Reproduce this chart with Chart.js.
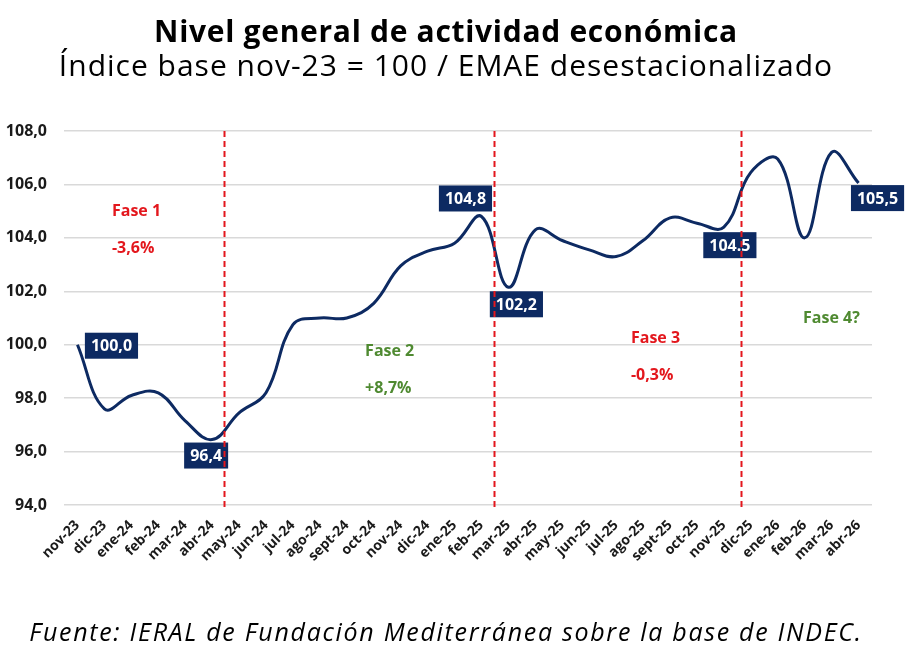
<!DOCTYPE html>
<html>
<head>
<meta charset="utf-8">
<script src="https://cdn.jsdelivr.net/npm/chart.js@4.4.1/dist/chart.umd.min.js"></script>
<style>
  body { margin: 0; background: #fff; }
  #wrap { position: relative; width: 924px; height: 662px; overflow: hidden; }
  #myChart { position: absolute; left: 0; top: 0; }
  .txt { position: absolute; left: 0; width: 892px; text-align: center; color: #000; white-space: nowrap; }
  #title { top: 10px; font: 700 30px "Open Sans", sans-serif; letter-spacing: 0.7px; }
  #subtitle { top: 44px; font: 400 30px "Open Sans", sans-serif; letter-spacing: 1px; }
  #footer { top: 614px; font: italic 400 25px "Open Sans", sans-serif; letter-spacing: 1.7px; }
</style>
</head>
<body>
<div id="wrap">
  <canvas id="myChart" width="924" height="662"></canvas>
  <div class="txt" id="title">Nivel general de actividad económica</div>
  <div class="txt" id="subtitle">Índice base nov-23 = 100 / EMAE desestacionalizado</div>
  <div class="txt" id="footer">Fuente: IERAL de Fundación Mediterránea sobre la base de INDEC.</div>
</div>
<script>
var months = ['nov-23','dic-23','ene-24','feb-24','mar-24','abr-24','may-24','jun-24','jul-24','ago-24',
  'sept-24','oct-24','nov-24','dic-24','ene-25','feb-25','mar-25','abr-25','may-25','jun-25',
  'jul-25','ago-25','sept-25','oct-25','nov-25','dic-25','ene-26','feb-26','mar-26','abr-26'];
var emae = [100.0, 97.6, 98.1, 98.2, 97.15, 96.45, 97.45, 98.2, 100.75, 101.0,
  101.0, 101.55, 102.95, 103.5, 103.8, 104.8, 102.15, 104.3, 103.9, 103.55,
  103.3, 103.9, 104.75, 104.55, 104.4, 106.45, 106.95, 104.0, 107.2, 106.05];

// value boxes shown on the line
var boxIndex = [0, 5, 15, 16, 24, 29];
var boxText = ['100,0', '96,4', '104,8', '102,2', '104.5', '105,5'];

// phases
var phaseBreaks = [5.44, 15.47, 24.64];
var phaseNames = ['Fase 1', 'Fase 2', 'Fase 3', 'Fase 4?'];
var phaseChanges = ['-3,6%', '+8,7%', '-0,3%', ''];

var navy = '#0d2a62';
var red = '#e3171d';
var green = '#4f8a31';

// placement (pixels offsets / scale positions) kept apart from the data
var boxOffsets = [[34, 1], [-6, 16], [-16, -18], [8, 17], [6, 18], [19, 15]];
var phasePos = [[1.28, 105.0, 103.6], [10.68, 99.75, 98.35], [20.55, 100.25, 98.85], [26.94, 101.0, 0]];
var phaseColors = [red, green, red, green];

var overlay = {
  id: 'overlay',
  afterDatasetsDraw: function (chart) {
    var c = chart.ctx, xs = chart.scales.x, ys = chart.scales.y, area = chart.chartArea;
    var pts = chart.getDatasetMeta(0).data;
    c.save();
    // phase texts
    c.font = '700 16px "Open Sans", sans-serif';
    c.textAlign = 'left';
    c.textBaseline = 'middle';
    for (var k = 0; k < phaseNames.length; k++) {
      c.fillStyle = phaseColors[k];
      var px = xs.getPixelForValue(phasePos[k][0]);
      c.fillText(phaseNames[k], px, ys.getPixelForValue(phasePos[k][1]));
      if (phaseChanges[k]) c.fillText(phaseChanges[k], px, ys.getPixelForValue(phasePos[k][2]));
    }
    // value boxes
    c.font = '700 16px "Open Sans", sans-serif';
    c.textAlign = 'center';
    for (var i = 0; i < boxIndex.length; i++) {
      var p = pts[boxIndex[i]];
      var cx = p.x + boxOffsets[i][0], cy = p.y + boxOffsets[i][1];
      var w = c.measureText(boxText[i]).width + 12, h = 26;
      c.fillStyle = navy;
      c.fillRect(cx - w / 2, cy - h / 2, w, h);
      c.fillStyle = '#fff';
      c.fillText(boxText[i], cx, cy + 1);
    }
    // dashed phase separators
    c.strokeStyle = red;
    c.lineWidth = 2;
    c.setLineDash([6, 4]);
    for (var j = 0; j < phaseBreaks.length; j++) {
      var lx = Math.round(xs.getPixelForValue(phaseBreaks[j])) + 0.5;
      c.beginPath();
      c.moveTo(lx, area.top);
      c.lineTo(lx, area.bottom + 3);
      c.stroke();
    }
    c.restore();
  }
};

var ctx = document.getElementById('myChart').getContext('2d');
var chart = new Chart(ctx, {
  type: 'line',
  data: {
    labels: months,
    datasets: [{
      data: emae,
      borderColor: navy,
      borderWidth: 3,
      pointRadius: 0,
      tension: 0.4,
      fill: false
    }]
  },
  options: {
    responsive: false,
    animation: false,
    layout: { padding: { top: 131, right: 52, bottom: 80, left: 0 } },
    plugins: {
      legend: { display: false },
      tooltip: { enabled: false }
    },
    scales: {
      x: {
        offset: true,
        grid: { display: false },
        border: { display: false },
        ticks: {
          autoSkip: false, minRotation: 45, maxRotation: 45, padding: 4,
          color: '#1a1a1a',
          font: { family: '"Open Sans", sans-serif', size: 14, weight: '700' }
        },
        afterFit: function (s) { s.height = 77; }
      },
      y: {
        min: 94, max: 108,
        grid: { color: '#d9d9d9', lineWidth: 1.5, drawTicks: false },
        border: { display: false },
        ticks: {
          stepSize: 2, padding: 17,
          color: '#1a1a1a',
          font: { family: '"Open Sans", sans-serif', size: 16, weight: '700' },
          callback: function (v) { return v.toFixed(1).replace('.', ','); }
        },
        afterFit: function (s) { s.width = 64; }
      }
    }
  },
  plugins: [overlay]
});
</script>
</body>
</html>
